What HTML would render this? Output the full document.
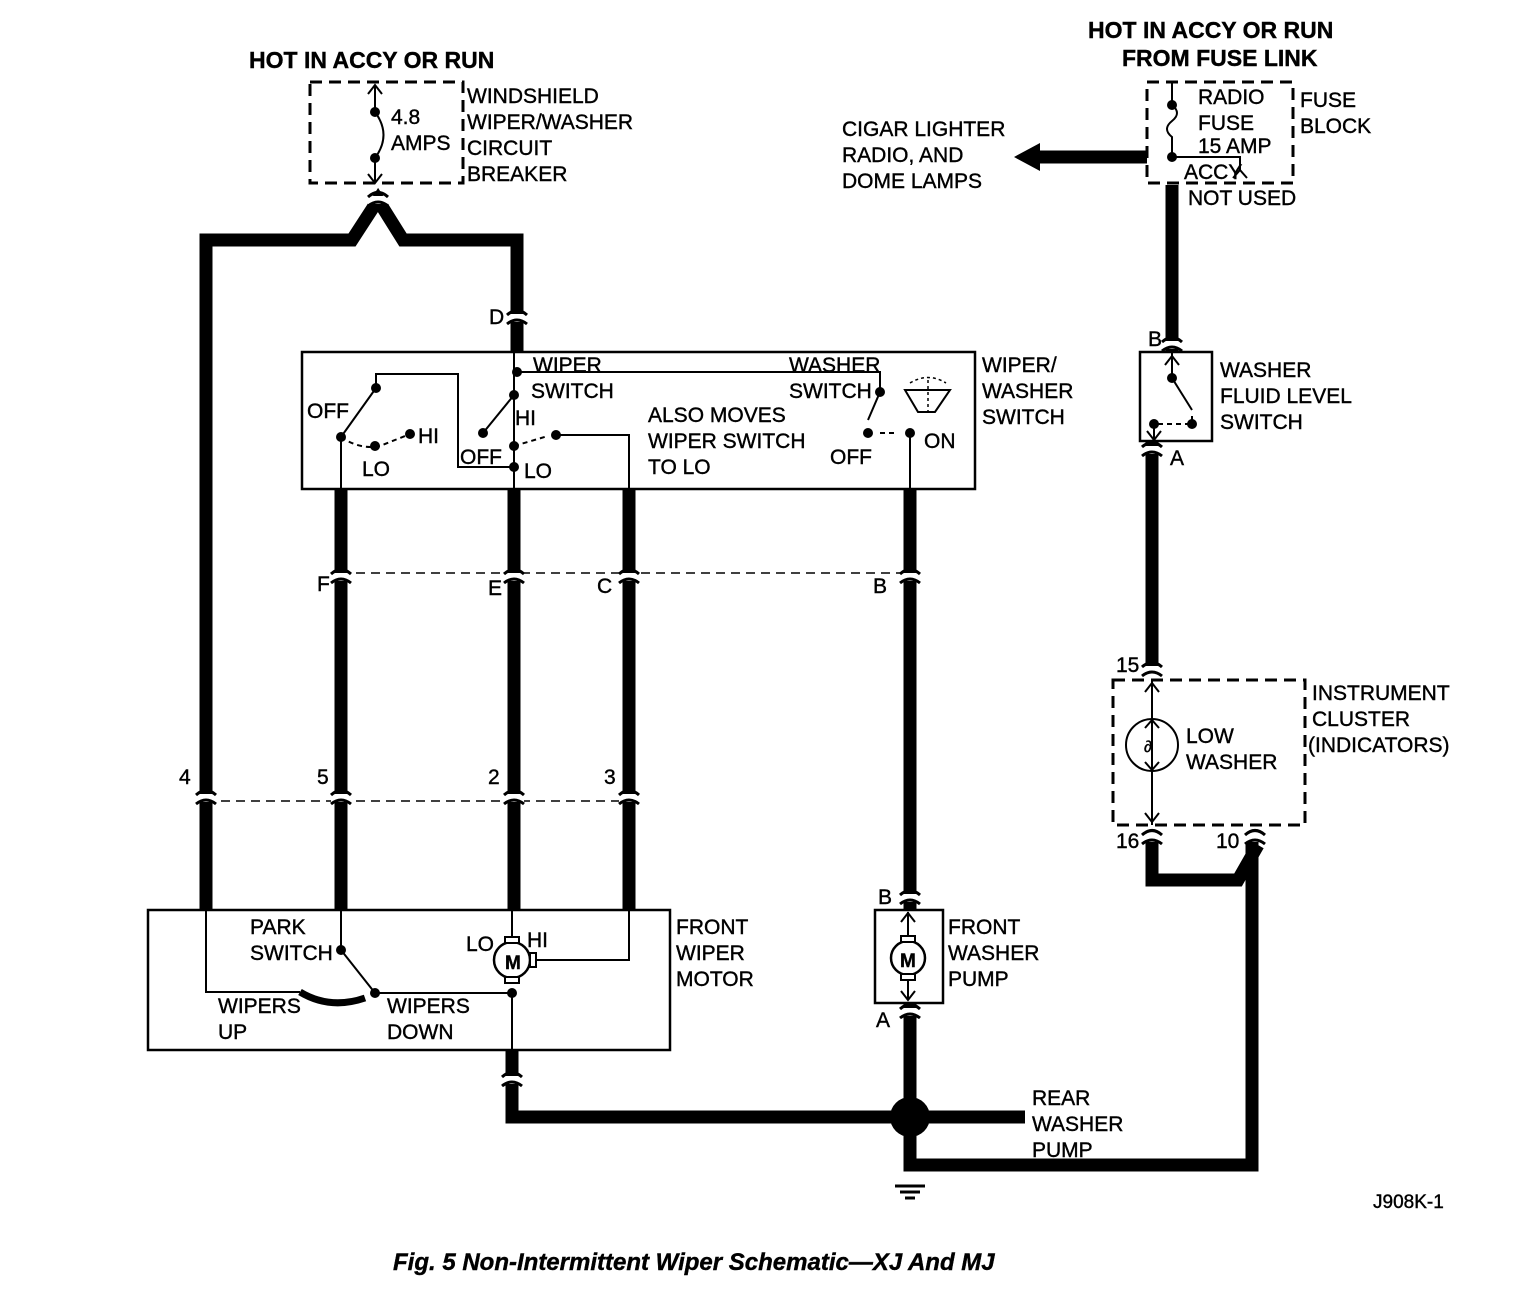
<!DOCTYPE html>
<html><head><meta charset="utf-8"><style>
html,body{margin:0;padding:0;background:#fff}
svg{display:block}
text{font-family:"Liberation Sans",sans-serif;font-size:21px;fill:#000;stroke:#000;stroke-width:0.4}
.b{font-weight:bold;font-size:23px}
</style></head><body>
<svg width="1536" height="1312" viewBox="0 0 1536 1312" xmlns="http://www.w3.org/2000/svg">
<defs>
<g id="cn">
<rect x="-10" y="-4" width="20" height="8" fill="#fff"/>
<path d="M-10,-3 Q0,-12 10,-3" stroke="#000" stroke-width="3" fill="none"/>
<path d="M-10,6 Q0,-2 10,6" stroke="#000" stroke-width="3" fill="none"/>
</g>
</defs>
<g stroke="#000" fill="none" stroke-linejoin="miter">
<g stroke-width="13">
<polyline points="206,910 206,240 352,240 378,200 403,240 517,240 517,352"/>
<line x1="341" y1="489" x2="341" y2="910"/>
<line x1="514" y1="489" x2="514" y2="910"/>
<line x1="629" y1="489" x2="629" y2="910"/>
<line x1="910" y1="489" x2="910" y2="910"/>
<polyline points="512,1050 512,1117 1025,1117"/>
<polyline points="910,1003 910,1165 1252,1165 1252,838"/>
<polyline points="1152,838 1152,880 1238,880 1258,845"/>
<line x1="1172" y1="185" x2="1172" y2="352"/>
<line x1="1152" y1="441" x2="1152" y2="668"/>
<line x1="1036" y1="157" x2="1147" y2="157"/>
</g>
<circle cx="910" cy="1117" r="20" fill="#000" stroke="none"/>
<path d="M1040,143 L1014,157 L1040,171 Z" fill="#000" stroke="none"/>
<g stroke-width="3"><line x1="895" y1="1186" x2="925" y2="1186"/><line x1="900" y1="1192" x2="920" y2="1192"/><line x1="905" y1="1198" x2="915" y2="1198"/></g>
<g stroke-width="2.5">
<rect x="302" y="352" width="673" height="137"/>
<rect x="148" y="910" width="522" height="140"/>
<rect x="875" y="910" width="68" height="93"/>
<rect x="1140" y="352" width="72" height="89"/>
</g>
<g stroke-width="3" stroke-dasharray="12,7">
<rect x="310" y="82" width="153" height="101"/>
<rect x="1147" y="82" width="146" height="101"/>
<rect x="1113" y="680" width="192" height="145"/>
</g>
<g stroke-width="1.5" stroke-dasharray="9,6">
<line x1="341" y1="573" x2="910" y2="573"/>
<line x1="206" y1="801" x2="629" y2="801"/>
</g>
<g stroke-width="2">
<polyline points="341,489 341,437 376,388 376,374 458,374 458,467 514,467"/>
<line x1="514" y1="352" x2="514" y2="489"/>
<polyline points="517,372 880,372 880,392 868,420"/>
<polyline points="514,395 483,433"/>
<polyline points="556,435 629,435 629,489"/>
<line x1="910" y1="435" x2="910" y2="489"/>
<path d="M341,437 Q360,450 380,446 Q395,440 410,434" stroke-dasharray="5,4"/>
<line x1="514" y1="446" x2="548" y2="436" stroke-dasharray="5,4"/>
<line x1="880" y1="433" x2="898" y2="433" stroke-dasharray="5,4"/>
<polyline points="341,910 341,950 375,993"/>
<polyline points="206,910 206,992 300,992"/>
<polyline points="375,993 512,993 512,1050"/>
<line x1="512" y1="910" x2="512" y2="940"/>
<polyline points="534,960 629,960 629,910"/>
<line x1="375" y1="85" x2="375" y2="112"/><line x1="375" y1="158" x2="375" y2="183"/>
<path d="M375,112 Q392,135 375,158"/>
<path d="M368,94 L375,85 L382,94"/><path d="M368,174 L375,183 L382,174"/>
<polyline points="1172,82 1172,105"/>
<path d="M1172,105 q10,8 0,16 q-10,8 0,16 v20"/>
<polyline points="1172,157 1240,157 1240,170"/>
<path d="M1233,178 L1240,170 L1247,178"/>
<line x1="1172" y1="352" x2="1172" y2="378"/>
<line x1="1172" y1="378" x2="1192" y2="410"/>
<polyline points="1154,441 1154,424"/>
<line x1="1158" y1="424" x2="1192" y2="424" stroke-dasharray="5,4"/>
<line x1="1192" y1="424" x2="1192" y2="416"/>
<path d="M1165,365 L1172,356 L1179,365"/><path d="M1147,431 L1154,440 L1161,431"/>
<line x1="1152" y1="680" x2="1152" y2="825"/>
<circle cx="1152" cy="745" r="26"/>
<path d="M1145,692 L1152,683 L1159,692"/><path d="M1145,813 L1152,822 L1159,813"/>
<path d="M1145,728 L1152,720 L1159,728"/><path d="M1145,762 L1152,770 L1159,762"/>
<line x1="908" y1="912" x2="908" y2="1000"/>
<path d="M901,922 L908,913 L915,922"/><path d="M901,991 L908,1000 L915,991"/>
</g>
<circle cx="908" cy="958" r="17" fill="#fff" stroke="#000" stroke-width="2.5"/>
<rect x="901" y="936" width="14" height="6" fill="#fff" stroke="#000" stroke-width="2"/>
<rect x="901" y="974" width="14" height="6" fill="#fff" stroke="#000" stroke-width="2"/>
<circle cx="512" cy="960" r="18" fill="#fff" stroke="#000" stroke-width="2.5"/>
<rect x="505" y="937" width="14" height="6" fill="#fff" stroke="#000" stroke-width="2"/>
<rect x="505" y="977" width="14" height="6" fill="#fff" stroke="#000" stroke-width="2"/>
<rect x="530" y="953" width="6" height="14" fill="#fff" stroke="#000" stroke-width="2"/>
<path d="M300,992 Q330,1010 365,998" stroke="#000" stroke-width="7" fill="none"/>
<path d="M905,390 L950,390 L935,412 L918,412 Z" fill="none" stroke="#000" stroke-width="2"/>
<line x1="928" y1="380" x2="928" y2="414" stroke="#000" stroke-width="1.5" stroke-dasharray="3,3"/>
<path d="M910,383 Q928,372 946,383" fill="none" stroke="#000" stroke-width="1.5" stroke-dasharray="3,3"/>
</g>
<g fill="#000">
<circle cx="376" cy="388" r="5"/><circle cx="341" cy="437" r="5"/><circle cx="375" cy="446" r="5"/><circle cx="410" cy="434" r="5"/>
<circle cx="517" cy="372" r="5"/><circle cx="514" cy="395" r="5"/><circle cx="483" cy="433" r="5"/><circle cx="514" cy="446" r="5"/><circle cx="556" cy="435" r="5"/><circle cx="514" cy="467" r="5"/>
<circle cx="880" cy="392" r="5"/><circle cx="868" cy="433" r="5"/><circle cx="910" cy="433" r="5"/>
<circle cx="341" cy="950" r="5"/><circle cx="375" cy="993" r="5"/><circle cx="512" cy="993" r="5"/>
<circle cx="375" cy="112" r="5"/><circle cx="375" cy="158" r="5"/>
<circle cx="1172" cy="105" r="5"/><circle cx="1172" cy="157" r="5"/>
<circle cx="1172" cy="378" r="5"/><circle cx="1154" cy="424" r="5"/><circle cx="1192" cy="424" r="5"/>
</g>
<text x="505" y="969" style="font-size:19px;font-weight:bold">M</text>
<text x="900" y="967" style="font-size:19px;font-weight:bold">M</text>
<text x="1144" y="752" style="font-size:16px">∂</text>
<use href="#cn" x="517" y="318"/>
<use href="#cn" x="378" y="200"/>
<use href="#cn" x="341" y="577"/><use href="#cn" x="514" y="577"/><use href="#cn" x="629" y="577"/><use href="#cn" x="910" y="577"/>
<use href="#cn" x="206" y="798"/><use href="#cn" x="341" y="798"/><use href="#cn" x="514" y="798"/><use href="#cn" x="629" y="798"/>
<use href="#cn" x="910" y="898"/><use href="#cn" x="910" y="1012"/><use href="#cn" x="512" y="1080"/>
<use href="#cn" x="1172" y="345"/><use href="#cn" x="1152" y="450"/>
<use href="#cn" x="1152" y="670"/><use href="#cn" x="1152" y="838"/><use href="#cn" x="1255" y="838"/>
<text class="b" x="249" y="68">HOT IN ACCY OR RUN</text>
<text class="b" x="1088" y="38">HOT IN ACCY OR RUN</text>
<text class="b" x="1122" y="66">FROM FUSE LINK</text>
<text x="467" y="103">WINDSHIELD</text><text x="467" y="129">WIPER/WASHER</text><text x="467" y="155">CIRCUIT</text><text x="467" y="181">BREAKER</text>
<text x="391" y="124">4.8</text><text x="391" y="150">AMPS</text>
<text x="842" y="136">CIGAR LIGHTER</text><text x="842" y="162">RADIO, AND</text><text x="842" y="188">DOME LAMPS</text>
<text x="1198" y="104">RADIO</text><text x="1198" y="130">FUSE</text><text x="1198" y="153">15 AMP</text><text x="1184" y="179">ACCY</text><text x="1188" y="205">NOT USED</text>
<text x="1300" y="107">FUSE</text><text x="1300" y="133">BLOCK</text>
<text x="489" y="324">D</text>
<text x="533" y="372">WIPER</text><text x="531" y="398">SWITCH</text>
<text x="789" y="372">WASHER</text><text x="789" y="398">SWITCH</text>
<text x="307" y="418">OFF</text><text x="418" y="443">HI</text><text x="362" y="476">LO</text>
<text x="515" y="425">HI</text><text x="460" y="464">OFF</text><text x="524" y="478">LO</text>
<text x="648" y="422">ALSO MOVES</text><text x="648" y="448">WIPER SWITCH</text><text x="648" y="474">TO LO</text>
<text x="830" y="464">OFF</text><text x="924" y="448">ON</text>
<text x="982" y="372">WIPER/</text><text x="982" y="398">WASHER</text><text x="982" y="424">SWITCH</text>
<text x="317" y="591">F</text><text x="488" y="595">E</text><text x="597" y="593">C</text><text x="873" y="593">B</text>
<text x="179" y="784">4</text><text x="317" y="784">5</text><text x="488" y="784">2</text><text x="604" y="784">3</text>
<text x="250" y="934">PARK</text><text x="250" y="960">SWITCH</text>
<text x="218" y="1013">WIPERS</text><text x="218" y="1039">UP</text>
<text x="387" y="1013">WIPERS</text><text x="387" y="1039">DOWN</text>
<text x="466" y="951">LO</text><text x="527" y="947">HI</text>
<text x="676" y="934">FRONT</text><text x="676" y="960">WIPER</text><text x="676" y="986">MOTOR</text>
<text x="878" y="904">B</text><text x="876" y="1027">A</text>
<text x="948" y="934">FRONT</text><text x="948" y="960">WASHER</text><text x="948" y="986">PUMP</text>
<text x="1032" y="1105">REAR</text><text x="1032" y="1131">WASHER</text><text x="1032" y="1157">PUMP</text>
<text x="1148" y="346">B</text><text x="1170" y="465">A</text>
<text x="1220" y="377">WASHER</text><text x="1220" y="403">FLUID LEVEL</text><text x="1220" y="429">SWITCH</text>
<text x="1116" y="672">15</text><text x="1116" y="848">16</text><text x="1216" y="848">10</text>
<text x="1186" y="743">LOW</text><text x="1186" y="769">WASHER</text>
<text x="1312" y="700">INSTRUMENT</text><text x="1312" y="726">CLUSTER</text><text x="1308" y="752">(INDICATORS)</text>
<text x="1373" y="1208" style="font-size:19px">J908K-1</text>
<text x="393" y="1270" style="font-size:24px;font-weight:bold;font-style:italic">Fig. 5 Non-Intermittent Wiper Schematic—XJ And MJ</text>
</svg>
</body></html>
